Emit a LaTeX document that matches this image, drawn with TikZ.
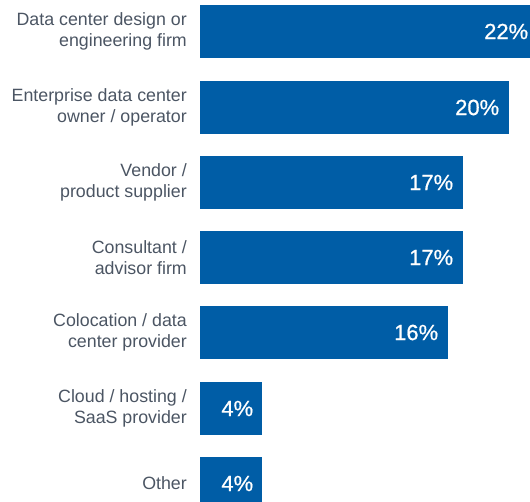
\documentclass[tikz,border=0pt]{standalone}
\usepackage{fontspec}
\setmainfont{Liberation Sans}
\newfontfamily\pctfont[FakeBold=0.7]{Liberation Sans}
\definecolor{barblue}{RGB}{0,93,166}
\definecolor{labelgray}{RGB}{75,85,99}
\tikzset{
  bar/.style={fill=barblue,draw=none,inner sep=0pt,anchor=west,minimum height=53pt},
  pct/.style={text=white,font=\pctfont\fontsize{22}{22}\selectfont,anchor=east,inner sep=0pt},
  cat/.style={text=labelgray,font=\fontsize{17.8}{21.5}\selectfont,align=right,anchor=east,inner sep=0pt}
}
\begin{document}
\begin{tikzpicture}[x=1pt,y=-1pt]
\useasboundingbox (0,0) rectangle (530,502);
\node[bar,minimum width=330pt] (design) at (200,31.5) {};
\node[bar,minimum width=309pt] (enterprise) at (200,107.5) {};
\node[bar,minimum width=263pt] (vendor) at (200,182.5) {};
\node[bar,minimum width=263pt] (consultant) at (200,257.5) {};
\node[bar,minimum width=248pt] (colocation) at (200,332.5) {};
\node[bar,minimum width=62pt] (cloud) at (200,408.5) {};
\node[bar,minimum width=62pt,minimum height=45pt] (other) at (200,479.5) {};
\node[pct] (design-pct) at ([xshift=-2pt]design.east) {22\%};
\node[pct] (enterprise-pct) at ([xshift=-10pt]enterprise.east) {20\%};
\node[pct] (vendor-pct) at ([xshift=-10pt]vendor.east) {17\%};
\node[pct] (consultant-pct) at ([xshift=-10pt]consultant.east) {17\%};
\node[pct] (colocation-pct) at ([xshift=-10pt]colocation.east) {16\%};
\node[pct] (cloud-pct) at ([xshift=-9pt]cloud.east) {4\%};
\node[pct] (other-pct) at ([xshift=-9pt,yshift=-4pt]other.east) {4\%};
\node[cat] (design-label) at (187,31.5) {Data center design or\\engineering firm};
\node[cat] (enterprise-label) at (187,107.5) {Enterprise data center\\owner / operator};
\node[cat] (vendor-label) at (187,182.5) {Vendor /\\product supplier};
\node[cat] (consultant-label) at (187,257.5) {Consultant /\\advisor firm};
\node[cat] (colocation-label) at (187,332.5) {Colocation / data\\center provider};
\node[cat] (cloud-label) at (187,408.5) {Cloud / hosting /\\SaaS provider};
\node[cat] (other-label) at (187,483.5) {Other};
\end{tikzpicture}
\end{document}
